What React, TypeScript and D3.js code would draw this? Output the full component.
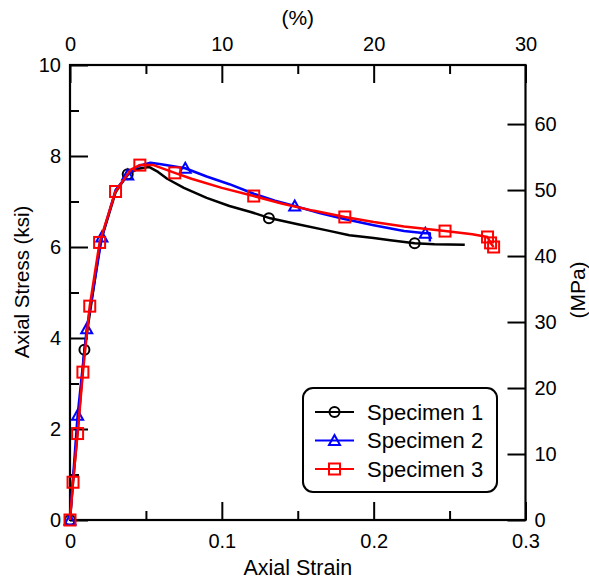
import React, { useEffect, useRef } from "react";
import * as d3 from "d3";

// ---- data ----
const s1Strain = [0, 0.002, 0.005, 0.0095, 0.014, 0.02, 0.03, 0.038, 0.045, 0.052, 0.058, 0.064, 0.075, 0.09, 0.105, 0.119, 0.132, 0.15, 0.17, 0.184, 0.2, 0.211, 0.227, 0.24, 0.26];
const s1Stress = [0, 0.85, 1.95, 3.74, 4.75, 6.1, 7.2, 7.6, 7.72, 7.76, 7.65, 7.5, 7.3, 7.08, 6.9, 6.77, 6.63, 6.5, 6.36, 6.26, 6.2, 6.15, 6.08, 6.06, 6.05];
const s1MarkStrain = [0, 0.0095, 0.038, 0.131, 0.227];
const s1MarkStress = [0, 3.74, 7.6, 6.63, 6.08];

const s2Strain = [0, 0.005, 0.011, 0.021, 0.03, 0.038, 0.045, 0.053, 0.06, 0.0759, 0.09, 0.105, 0.121, 0.135, 0.148, 0.165, 0.18, 0.2, 0.22, 0.234, 0.237, 0.237];
const s2Stress = [0, 2.3, 4.2, 6.22, 7.25, 7.58, 7.78, 7.85, 7.82, 7.73, 7.55, 7.38, 7.17, 7.02, 6.9, 6.74, 6.62, 6.48, 6.35, 6.3, 6.3, 6.12];
const s2MarkStrain = [0, 0.005, 0.011, 0.021, 0.038, 0.0759, 0.148, 0.234];
const s2MarkStress = [0, 2.3, 4.2, 6.22, 7.58, 7.73, 6.9, 6.3];

const s3Strain = [0, 0.002, 0.005, 0.0085, 0.013, 0.0195, 0.03, 0.04, 0.046, 0.055, 0.069, 0.08, 0.1, 0.121, 0.14, 0.16, 0.181, 0.2, 0.22, 0.247, 0.265, 0.275, 0.277, 0.279];
const s3Stress = [0, 0.83, 1.9, 3.25, 4.7, 6.1, 7.22, 7.7, 7.8, 7.8, 7.63, 7.5, 7.3, 7.12, 6.95, 6.8, 6.66, 6.55, 6.45, 6.35, 6.28, 6.22, 6.09, 6.0];
const s3MarkStrain = [0, 0.002, 0.005, 0.0085, 0.013, 0.0195, 0.03, 0.046, 0.069, 0.121, 0.181, 0.247, 0.275, 0.277, 0.279];
const s3MarkStress = [0, 0.83, 1.9, 3.25, 4.7, 6.1, 7.22, 7.8, 7.63, 7.12, 6.66, 6.35, 6.22, 6.09, 6.0];

const seriesNames = ["Specimen 1", "Specimen 2", "Specimen 3"];
const seriesColors = ["#000000", "#0000ff", "#ff0000"];
const seriesSymbols = ["circle", "triangle", "square"];

const strainTicks = [0, 0.1, 0.2, 0.3];
const strainMinor = [0.05, 0.15, 0.25];
const pctTicks = [0, 10, 20, 30];
const pctMinor = [5, 15, 25];
const ksiTicks = [0, 2, 4, 6, 8, 10];
const ksiMinor = [1, 3, 5, 7, 9];
const mpaTicks = [0, 10, 20, 30, 40, 50, 60];
const KSI_TO_MPA = 6.89476;

const W = 589, H = 582;
const X0 = 70, X1 = 525.5, Y0 = 520, Y1 = 65;
const FONT = "Arial, 'Liberation Sans', sans-serif";

export default function App() {
  const ref = useRef<SVGSVGElement>(null);
  useEffect(() => {
    const svg = d3.select(ref.current);
    svg.selectAll("*").remove();
    const x = d3.scaleLinear().domain([0, 0.3]).range([X0, X1]);
    const xp = d3.scaleLinear().domain([0, 30]).range([X0, X1]);
    const y = d3.scaleLinear().domain([0, 10]).range([Y0, Y1]);
    const ym = d3.scaleLinear().domain([0, 10 * KSI_TO_MPA]).range([Y0, Y1]);

    const styleAxis = (g: any) => {
      g.select(".domain").remove();
      g.selectAll(".tick line").attr("stroke", "#000").attr("stroke-width", 2);
      g.selectAll(".tick text").attr("fill", "#000").style("font-family", FONT).style("font-size", "20px");
    };

    // frame
    svg.append("rect").attr("x", X0).attr("y", Y1).attr("width", X1 - X0).attr("height", Y0 - Y1)
      .attr("fill", "none").attr("stroke", "#000").attr("stroke-width", 2.2);

    // bottom
    svg.append("g").attr("transform", `translate(0,${Y0})`)
      .call(d3.axisBottom(x).tickValues(strainTicks).tickSize(-18).tickPadding(14).tickFormat((d: any) => (d === 0 ? "0" : String(d))))
      .call(styleAxis);
    svg.append("g").attr("transform", `translate(0,${Y0})`)
      .call(d3.axisBottom(x).tickValues(strainMinor).tickSize(-9).tickFormat(() => ""))
      .call(styleAxis);
    // top
    svg.append("g").attr("transform", `translate(0,${Y1})`)
      .call(d3.axisTop(xp).tickValues(pctTicks).tickSize(-18).tickPadding(14).tickFormat((d: any) => String(d)))
      .call(styleAxis);
    svg.append("g").attr("transform", `translate(0,${Y1})`)
      .call(d3.axisTop(xp).tickValues(pctMinor).tickSize(-9).tickFormat(() => ""))
      .call(styleAxis);
    // left
    svg.append("g").attr("transform", `translate(${X0},0)`)
      .call(d3.axisLeft(y).tickValues(ksiTicks).tickSize(-18).tickPadding(9).tickFormat((d: any) => String(d)))
      .call(styleAxis);
    svg.append("g").attr("transform", `translate(${X0},0)`)
      .call(d3.axisLeft(y).tickValues(ksiMinor).tickSize(-9).tickFormat(() => ""))
      .call(styleAxis);
    // right
    svg.append("g").attr("transform", `translate(${X1},0)`)
      .call(d3.axisRight(ym).tickValues(mpaTicks).tickSize(-18).tickPadding(9).tickFormat((d: any) => String(d)))
      .call(styleAxis);

    // titles
    const title = (t: string, tx: number, ty: number, rot: number, fs: number) =>
      svg.append("text").attr("transform", `translate(${tx},${ty}) rotate(${rot})`)
        .attr("text-anchor", "middle").style("font-family", FONT).style("font-size", `${fs}px`).attr("fill", "#000").text(t);
    title("Axial Strain", (X0 + X1) / 2, 575, 0, 21.5);
    title("(%)", (X0 + X1) / 2, 25, 0, 21);
    title("Axial Stress (ksi)", 29, 282, -90, 20.5);
    title("(MPa)", 585, 290, -90, 21);

    const series = [
      { sx: s1Strain, sy: s1Stress, mx: s1MarkStrain, my: s1MarkStress },
      { sx: s2Strain, sy: s2Stress, mx: s2MarkStrain, my: s2MarkStress },
      { sx: s3Strain, sy: s3Stress, mx: s3MarkStrain, my: s3MarkStress },
    ];

    const drawMarker = (g: any, sym: string, cx: number, cy: number, color: string) => {
      if (sym === "circle") {
        g.append("circle").attr("cx", cx).attr("cy", cy).attr("r", 5).attr("fill", "none").attr("stroke", color).attr("stroke-width", 2);
      } else if (sym === "triangle") {
        const s = 5.5;
        g.append("path").attr("d", `M${cx},${cy - s}L${cx + s},${cy + s * 0.8}L${cx - s},${cy + s * 0.8}Z`)
          .attr("fill", "none").attr("stroke", color).attr("stroke-width", 2);
      } else {
        const s = 5.5;
        g.append("rect").attr("x", cx - s).attr("y", cy - s).attr("width", 2 * s).attr("height", 2 * s)
          .attr("fill", "none").attr("stroke", color).attr("stroke-width", 2);
      }
    };

    const line = d3.line<[number, number]>().x((d) => x(d[0])).y((d) => y(d[1]));
    series.forEach((s, i) => {
      const g = svg.append("g");
      const pts: [number, number][] = s.sx.map((v, j) => [v, s.sy[j]]);
      g.append("path").attr("d", line(pts)).attr("fill", "none").attr("stroke", seriesColors[i]).attr("stroke-width", 2.5).attr("stroke-linejoin", "round");
      s.mx.forEach((v, j) => drawMarker(g, seriesSymbols[i], x(v), y(s.my[j]), seriesColors[i]));
    });

    // legend
    const lg = svg.append("g");
    lg.append("rect").attr("x", 303).attr("y", 388).attr("width", 194).attr("height", 104).attr("rx", 10)
      .attr("fill", "#fff").attr("stroke", "#000").attr("stroke-width", 2);
    seriesNames.forEach((n, i) => {
      const ly = 412 + i * 28.5;
      lg.append("line").attr("x1", 315).attr("x2", 354).attr("y1", ly).attr("y2", ly).attr("stroke", seriesColors[i]).attr("stroke-width", 2);
      drawMarker(lg, seriesSymbols[i], 334.5, ly, seriesColors[i]);
      lg.append("text").attr("x", 367).attr("y", ly).attr("dy", "0.36em").style("font-family", FONT).style("font-size", "22px").attr("fill", "#000").text(n);
    });
  }, []);
  return (
    <svg ref={ref} width={W} height={H} style={{ position: "absolute", left: 0, top: 0, background: "#fff" }} />
  );
}
